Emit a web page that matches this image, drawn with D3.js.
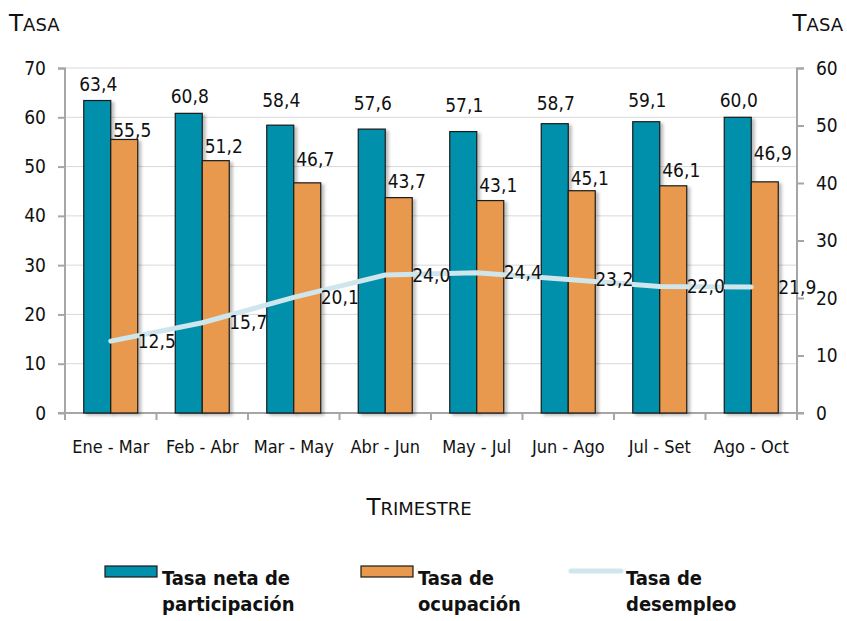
<!DOCTYPE html>
<html>
<head>
<meta charset="utf-8">
<script src="https://cdn.jsdelivr.net/npm/d3@7"></script>
<style>
  body { margin: 0; background: #fff; }
  text { font-family: "DejaVu Sans Condensed", "DejaVu Sans", sans-serif; font-stretch: condensed; fill: #111; }
  .capsTitle { font-family: "DejaVu Sans", sans-serif; font-stretch: normal; font-size: 23px; }
  .capsTitle .sc { font-size: 18px; }
  .legendText { font-weight: bold; font-size: 20px; }
</style>
</head>
<body>
<div id="chart"></div>
<script>
// data
var trimestres = ["Ene - Mar", "Feb - Abr", "Mar - May", "Abr - Jun", "May - Jul", "Jun - Ago", "Jul - Set", "Ago - Oct"];
var participacion = [63.4, 60.8, 58.4, 57.6, 57.1, 58.7, 59.1, 60.0];
var ocupacion = [55.5, 51.2, 46.7, 43.7, 43.1, 45.1, 46.1, 46.9];
var desempleo = [12.5, 15.7, 20.1, 24.0, 24.4, 23.2, 22.0, 21.9];
var leftTicks = [0, 10, 20, 30, 40, 50, 60, 70];
var rightTicks = [0, 10, 20, 30, 40, 50, 60];

// the data labels were nudged by hand in the original, lift above bar top in px
var partLabelLift = [10, 10, 18, 19, 20, 14, 15, 10];
var ocupLabelLift = [2, 8, 17, 10, 9, 6, 9, 22];

var svgWidth = 847;
var svgHeight = 621;
var margin = {top: 68, right: 50, bottom: 208, left: 65};
var width = svgWidth - margin.left - margin.right;
var height = svgHeight - margin.top - margin.bottom;

var teal = "#0090ab";
var orange = "#e8994e";
var lineCol = "#cfe6ec";

var fmt = function(v) { return d3.format(".1f")(v).replace(".", ","); };

var svg = d3.select("#chart").append("svg").attr("width", svgWidth).attr("height", svgHeight);

// shadow for the bars
var defs = svg.append("defs");
var filt = defs.append("filter").attr("id", "shadow").attr("x", "-20%").attr("y", "-5%").attr("width", "150%").attr("height", "115%");
filt.append("feDropShadow").attr("dx", 3).attr("dy", 2).attr("stdDeviation", 1.5).attr("flood-color", "#000").attr("flood-opacity", 0.25);

var chartGroup = svg.append("g").attr("transform", `translate(${margin.left}, ${margin.top})`);

// scales
var xBand = d3.scaleBand().domain(trimestres).range([0, width]);
var yLeft = d3.scaleLinear().domain([0, 70]).range([height, 0]);
var yRight = d3.scaleLinear().domain([0, 60]).range([height, 0]);
var barW = 27;

// gridlines
chartGroup.append("g")
  .selectAll("line")
  .data(leftTicks.slice(1))
  .enter()
  .append("line")
  .attr("x1", 0).attr("x2", width)
  .attr("y1", d => yLeft(d)).attr("y2", d => yLeft(d))
  .attr("stroke", "#d9d9d9").attr("stroke-width", 1);

// axes
var leftAxis = d3.axisLeft(yLeft).tickValues(leftTicks).tickSize(7).tickPadding(12);
var rightAxis = d3.axisRight(yRight).tickValues(rightTicks).tickSize(7).tickPadding(12);
var bottomAxis = d3.axisBottom(xBand).tickSize(0).tickPadding(27);

var gl = chartGroup.append("g").call(leftAxis);
var gr = chartGroup.append("g").attr("transform", `translate(${width}, 0)`).call(rightAxis);
var gb = chartGroup.append("g").attr("transform", `translate(0, ${height})`).call(bottomAxis);

[gl, gr, gb].forEach(function(g) {
  g.select(".domain").attr("stroke", "#a6a6a6").attr("stroke-width", 2);
  g.selectAll(".tick line").attr("stroke", "#a6a6a6").attr("stroke-width", 2);
  g.selectAll(".tick text").style("font-size", "19px").attr("fill", "#111");
});
gb.selectAll(".tick text").style("font-size", "18px");
gl.select(".domain").attr("d", `M-7,0.5H0V${height}H-7`);
gr.select(".domain").attr("d", `M7,0.5H0V${height}H7`);
gb.select(".domain").attr("d", `M-6,0H${width + 6}`);

// category boundary ticks on the x axis
chartGroup.append("g")
  .selectAll("line")
  .data(d3.range(trimestres.length + 1))
  .enter()
  .append("line")
  .attr("x1", d => d * xBand.bandwidth()).attr("x2", d => d * xBand.bandwidth())
  .attr("y1", height).attr("y2", height + 7)
  .attr("stroke", "#a6a6a6").attr("stroke-width", 2);

// bars
var groups = chartGroup.selectAll(".grp")
  .data(trimestres)
  .enter()
  .append("g")
  .attr("class", "grp");

groups.append("rect")
  .attr("x", d => xBand(d) + xBand.bandwidth() / 2 - barW)
  .attr("y", (d, i) => yLeft(participacion[i]))
  .attr("width", barW)
  .attr("height", (d, i) => height - yLeft(participacion[i]))
  .attr("fill", teal).attr("stroke", "#1a1a1a").attr("stroke-width", 1.2)
  .attr("filter", "url(#shadow)");

groups.append("rect")
  .attr("x", d => xBand(d) + xBand.bandwidth() / 2)
  .attr("y", (d, i) => yLeft(ocupacion[i]))
  .attr("width", barW)
  .attr("height", (d, i) => height - yLeft(ocupacion[i]))
  .attr("fill", orange).attr("stroke", "#1a1a1a").attr("stroke-width", 1.2)
  .attr("filter", "url(#shadow)");

// bar labels
groups.append("text")
  .attr("x", d => xBand(d) + xBand.bandwidth() / 2 - barW / 2 + 1)
  .attr("y", (d, i) => yLeft(participacion[i]) - partLabelLift[i])
  .attr("text-anchor", "middle")
  .style("font-size", "19px")
  .text((d, i) => fmt(participacion[i]));

groups.append("text")
  .attr("x", d => xBand(d) + xBand.bandwidth() / 2 + barW / 2 + 8)
  .attr("y", (d, i) => yLeft(ocupacion[i]) - ocupLabelLift[i])
  .attr("text-anchor", "middle")
  .style("font-size", "19px")
  .text((d, i) => fmt(ocupacion[i]));

// desempleo line on right axis
var line = d3.line()
  .x((d, i) => xBand(trimestres[i]) + xBand.bandwidth() / 2)
  .y(d => yRight(d));

chartGroup.append("path")
  .datum(desempleo)
  .attr("d", line)
  .attr("fill", "none")
  .attr("stroke", lineCol)
  .attr("stroke-width", 5)
  .attr("stroke-linecap", "round");

chartGroup.selectAll(".lineLabel")
  .data(desempleo)
  .enter()
  .append("text")
  .attr("class", "lineLabel")
  .attr("x", (d, i) => xBand(trimestres[i]) + xBand.bandwidth() / 2 + 27)
  .attr("y", d => yRight(d))
  .attr("dy", "0.35em")
  .style("font-size", "19px")
  .text(d => fmt(d));

// axis titles, small caps done by hand
function capsTitle(x, y, anchor, word) {
  var t = svg.append("text").attr("class", "capsTitle").attr("x", x).attr("y", y).attr("text-anchor", anchor);
  t.append("tspan").text(word.charAt(0));
  t.append("tspan").attr("class", "sc").text(word.slice(1).toUpperCase());
}
capsTitle(9, 31, "start", "Tasa");
capsTitle(843, 31, "end", "Tasa");
capsTitle(419, 515, "middle", "Trimestre");

// legend
var legendItems = [
  {label: ["Tasa neta de", "participación"], type: "bar", color: teal, x: 105},
  {label: ["Tasa de", "ocupación"], type: "bar", color: orange, x: 361},
  {label: ["Tasa de", "desempleo"], type: "line", color: lineCol, x: 569}
];

var legend = svg.append("g");
legendItems.forEach(function(item) {
  var g = legend.append("g").attr("transform", `translate(${item.x}, 0)`);
  if (item.type === "bar") {
    g.append("rect").attr("x", 0).attr("y", 566).attr("width", 52).attr("height", 11)
      .attr("fill", item.color).attr("stroke", "#1a1a1a").attr("stroke-width", 1.2);
  } else {
    g.append("line").attr("x1", 2).attr("x2", 52).attr("y1", 571).attr("y2", 571)
      .attr("stroke", item.color).attr("stroke-width", 5).attr("stroke-linecap", "round");
  }
  var t = g.append("text").attr("class", "legendText").attr("x", 57).attr("y", 585);
  t.append("tspan").attr("x", 57).text(item.label[0]);
  t.append("tspan").attr("x", 57).attr("dy", 26).text(item.label[1]);
});
</script>
</body>
</html>
